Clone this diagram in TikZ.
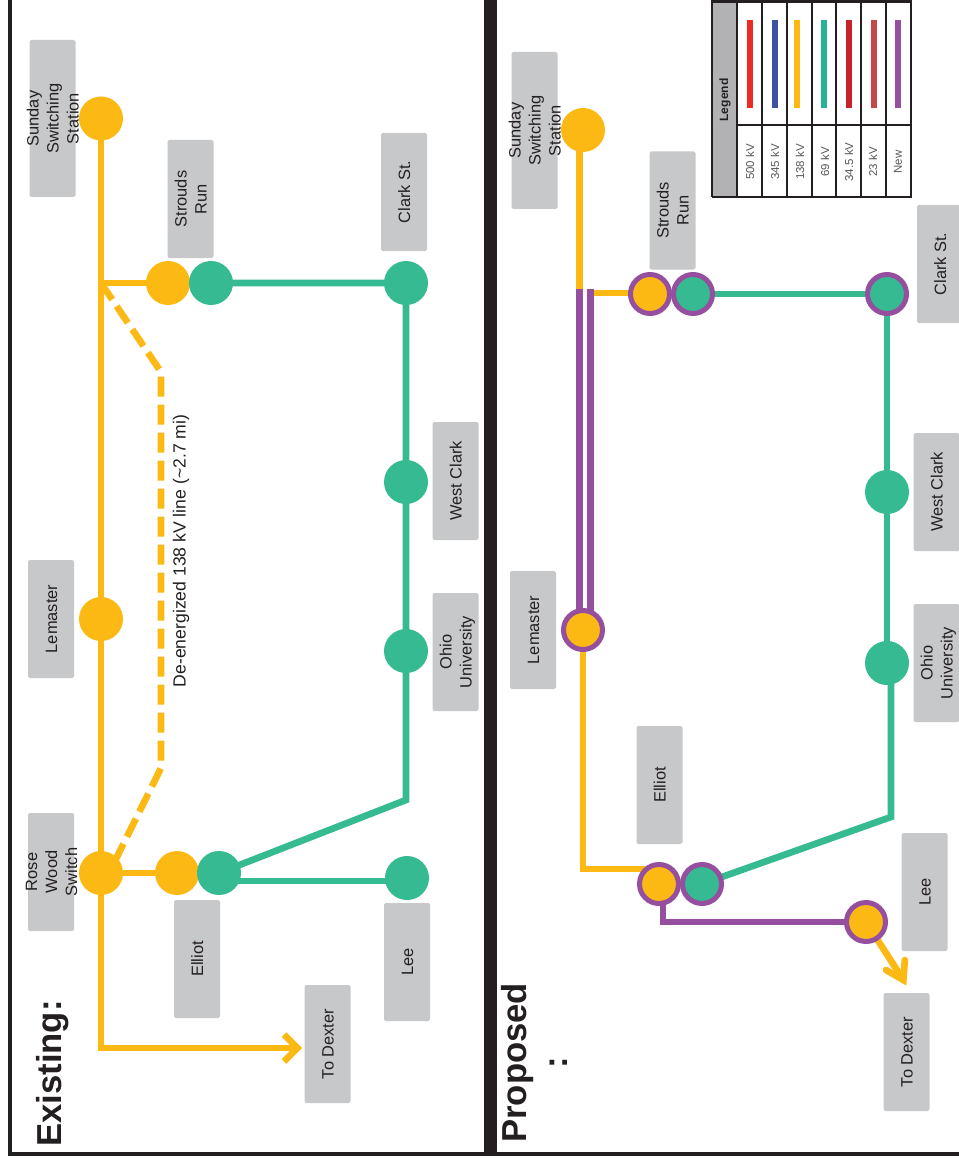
\documentclass[tikz,border=0pt]{standalone}
\usepackage{fontspec}
\setmainfont{Liberation Sans}
\usetikzlibrary{backgrounds}
\definecolor{yel}{HTML}{FDB913}
\definecolor{grn}{HTML}{36BA92}
\definecolor{pur}{HTML}{954F9E}
\definecolor{boxg}{HTML}{C7C8CA}
\definecolor{ink}{HTML}{231F20}
\newcommand{\lbltext}[1]{\raisebox{-.38em}[0pt][0pt]{\begin{tabular}[c]{@{}c@{}}#1\end{tabular}}}
\tikzset{
  px/.style={x=.75pt,y=-.75pt},
  lbl/.style={rotate=90,fill=boxg,rounded corners=1.2pt,inner sep=0pt,minimum height=34.5pt,minimum width=#1,
    font=\fontsize{12.3}{15}\selectfont,text=ink},
  lbl/.default=88.5pt,
  stn/.style={circle,fill=#1,inner sep=0pt,minimum size=33pt},
  pstn/.style={circle,fill=#1,draw=pur,line width=3.75pt,inner sep=0pt,minimum size=29.25pt},
  yline/.style={draw=yel,line width=5pt},
  gline/.style={draw=grn,line width=5pt},
  pline/.style={draw=pur,line width=5pt},
  dashline/.style={yline,dash pattern=on 15pt off 6pt},
  frameline/.style={draw=ink,line width=#1},
  title/.style={rotate=90,anchor=base west,font=\fontsize{26}{30}\bfseries\selectfont,text=ink,inner sep=0pt},
  legtxt/.style={rotate=90,font=\fontsize{8.6}{10}\selectfont,text=ink!75,inner sep=0pt},
  legrule/.style={draw=ink,line width=1.3pt},
  swatch/.style={line width=4pt},
}
\begin{document}
\begin{tikzpicture}[px]
\useasboundingbox (0,0) rectangle (959,1166);
% frame
\coordinate (fa) at (10,0); \coordinate (fb) at (10,1154); \coordinate (fc) at (959,1154);
\coordinate (fd) at (490.5,0); \coordinate (fe) at (490.5,1154);
\draw[frameline=3pt] (fa) -- (fb) -- (fc);
\draw[frameline=9.8pt] (fd) -- (fe);
% titles
\node[title] (existing) at (61,1147) {Existing:};
\node[title] (proposed) at (526,1143) {Proposed};
\node[title,anchor=base] (colon) at (567,1063) {:};

% ---- existing: labels
\node[lbl=117.75pt] (lSunday) at (52.5,118.5) {\lbltext{Sunday\\Switching\\Station}};
\node[lbl] (lStrouds) at (190.5,199) {\lbltext{Strouds\\Run}};
\node[lbl] (lClark) at (404,192) {\lbltext{Clark St.}};
\node[lbl] (lWest) at (455.5,481) {\lbltext{West Clark}};
\node[lbl] (lLemaster) at (51,619) {\lbltext{Lemaster}};
\node[lbl] (lOhio) at (455.5,652) {\lbltext{Ohio\\University}};
\node[lbl] (lRose) at (51,872) {\lbltext{Rose\\Wood\\Switch}};
\node[lbl] (lElliot) at (197,959) {\lbltext{Elliot}};
\node[lbl] (lLee) at (407,962) {\lbltext{Lee}};
\node[lbl] (lDexter) at (327.5,1044) {\lbltext{To Dexter}};
\node[rotate=90,inner sep=0pt,font=\fontsize{13.2}{15}\selectfont,text=ink] (deen) at (181,551) {De-energized 138 kV line (\textasciitilde2.7 mi)};
% ---- existing: stations
\node[stn=yel] (eSunday) at (101,118.5) {};
\node[stn=yel] (eLemaster) at (101,619) {};
\node[stn=yel] (eRose) at (101,873) {};
\node[stn=yel] (eElliotY) at (177,873) {};
\node[stn=grn] (eElliotG) at (219,873) {};
\node[stn=grn] (eLee) at (407,878) {};
\node[stn=yel] (eStroudsY) at (168,283) {};
\node[stn=grn] (eStroudsG) at (211,283) {};
\node[stn=grn] (eClark) at (406,283) {};
\node[stn=grn] (eWest) at (406,482) {};
\node[stn=grn] (eOhio) at (406,651) {};
\coordinate (eTap) at (101,283);
\coordinate (eBend) at (101,1048);
\coordinate (eD1) at (161,372);
\coordinate (eD2) at (161,768);
\coordinate (eD3) at (109,873);
\coordinate (eG1) at (406,800);
\coordinate (eLeeA) at (219,881);
\coordinate (eLeeB) at (407,881);
\coordinate (eTip) at (297.5,1048);
\coordinate (eArmA) at (284,1034.5);
\coordinate (eArmB) at (284,1061.5);

% ---- proposed: labels
\node[lbl=117.75pt] (pSundayL) at (534.5,130.5) {\lbltext{Sunday\\Switching\\Station}};
\node[lbl] (pStroudsL) at (672.5,210.5) {\lbltext{Strouds\\Run}};
\node[lbl] (pClarkL) at (940,264) {\lbltext{Clark St.}};
\node[lbl] (pWestL) at (936.5,492) {\lbltext{West Clark}};
\node[lbl] (pLemasterL) at (533,630) {\lbltext{Lemaster}};
\node[lbl] (pOhioL) at (936.5,663) {\lbltext{Ohio\\University}};
\node[lbl] (pElliotL) at (659.5,785) {\lbltext{Elliot}};
\node[lbl] (pLeeL) at (924.5,892) {\lbltext{Lee}};
\node[lbl] (pDexterL) at (906.5,1052) {\lbltext{To Dexter}};
% ---- proposed: stations
\node[stn=yel] (pSunday) at (583,130) {};
\node[pstn=yel] (pLemaster) at (583,630) {};
\node[pstn=yel] (pStroudsY) at (650,294) {};
\node[pstn=grn] (pStroudsG) at (693,294) {};
\node[pstn=grn] (pClark) at (887,294) {};
\node[stn=grn] (pWest) at (887,492) {};
\node[stn=grn] (pOhio) at (887,663) {};
\node[pstn=yel] (pElliotY) at (659,884) {};
\node[pstn=grn] (pElliotG) at (702,884) {};
\node[pstn=yel] (pLee) at (866,922) {};
\coordinate (pS1) at (579.5,130);
\coordinate (pS2) at (579.5,289);
\coordinate (pS3) at (579.5,630);
\coordinate (pD1) at (590.5,289);
\coordinate (pD2) at (590.5,630);
\coordinate (pB1) at (594,293);
\coordinate (pB2) at (650,293);
\coordinate (pY1) at (583,869);
\coordinate (pY2) at (659,869);
\coordinate (pO1) at (891,663);
\coordinate (pO2) at (891,817);
\coordinate (pPu1) at (663,884);
\coordinate (pPu2) at (663,922);
\coordinate (pTip) at (903.4,980);
\coordinate (pArmA) at (904.8,960);
\coordinate (pArmB) at (886,970);

\begin{scope}[on background layer]
% existing connectors
\draw[yline,line join=miter] (eSunday.center) -- (eBend) -- (eTip);
\draw[yline,line join=miter] (eArmA) -- (eTip) -- (eArmB);
\draw[yline] (eTap) -- (eStroudsY.center);
\draw[dashline] (eTap) -- (eD1) -- (eD2) -- (eD3);
\draw[yline] (eRose.center) -- (eElliotY.center);
\draw[gline] (eStroudsG.center) -- (eClark.center) -- (eG1) -- (eElliotG.center);
\draw[gline] (eLeeA) -- (eLeeB);
% proposed connectors
\draw[yline] (pS1) -- (pS2);
\draw[pline] (pS2) -- (pS3);
\draw[pline] (pD1) -- (pD2);
\draw[yline] (pB1) -- (pB2);
\draw[yline,line join=miter] (pLemaster.center) -- (pY1) -- (pY2);
\draw[pline,line join=miter] (pPu1) -- (pPu2) -- (pLee.center);
\draw[gline] (pStroudsG.center) -- (pClark.center) -- (pOhio.center);
\draw[gline] (pO1) -- (pO2) -- (pElliotG.center);
\draw[yline] (pLee.center) -- (pTip);
\draw[yline,line join=miter,line cap=round] (pArmA) -- (pTip) -- (pArmB);
\end{scope}

% ---- legend
\fill[boxg!85!black!90] (712,0) rectangle (737,197);
\foreach \x in {712,737,762,787,812,836,861,886,911}{\draw[legrule] (\x,0) -- (\x,197);}
\draw[legrule] (711.5,197) -- (911.5,197);
\draw[legrule] (737,125) -- (911,125);
\fill[ink] (711,0) rectangle (912,3.5);
\node[legtxt,font=\fontsize{9}{10}\bfseries\selectfont,text=ink] (legTitle) at (725,100) {Legend};
\foreach \x/\c in {750/EE2A24,775/3F51A3,797/FDB913,824/26B39A,849/CB2229,874/C4474B,898/954F9E}{
  \definecolor{swc}{HTML}{\c}
  \draw[swatch,draw=swc] (\x,20) -- (\x,108);
}
\node[legtxt] (l500) at (750,162) {500 kV};
\node[legtxt] (l345) at (775,162) {345 kV};
\node[legtxt] (l138) at (800,162) {138 kV};
\node[legtxt] (l69) at (825,162) {69 kV};
\node[legtxt] (l345b) at (849,162) {34.5 kV};
\node[legtxt] (l23) at (873,162) {23 kV};
\node[legtxt] (lnew) at (898,162) {New};
\end{tikzpicture}
\end{document}
